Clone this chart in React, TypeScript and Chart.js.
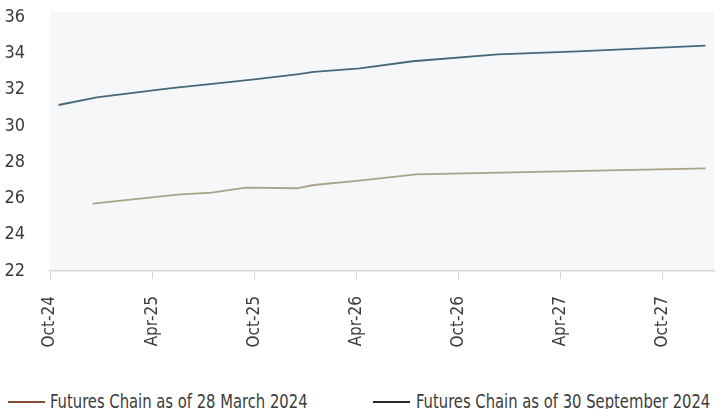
import React, { useEffect, useRef } from "react";
import { Chart, registerables } from "chart.js";

Chart.register(...registerables);

// x axis: months since Oct-24
const tickLabels = ["Oct-24", "Apr-25", "Oct-25", "Apr-26", "Oct-26", "Apr-27", "Oct-27"];
const tickStepMonths = 6;
const axisMaxMonths = 39;
const yMin = 22;
const yMax = 36;
const yStep = 2;

const seriesNames = ["Futures Chain as of 28 March 2024", "Futures Chain as of 30 September 2024"];

const marchChainMonths = [2.5, 7.5, 9.5, 11.5, 14.5, 15.5, 18.3, 21.5, 38.5];
const marchChainValues = [25.71, 26.21, 26.32, 26.6, 26.56, 26.74, 27.0, 27.33, 27.66];

const septChainMonths = [0.5, 2.75, 7, 9.8, 12, 14.5, 15.5, 18.2, 21.3, 26.3, 31, 38.5];
const septChainValues = [31.15, 31.57, 32.07, 32.34, 32.56, 32.84, 32.97, 33.17, 33.56, 33.94, 34.1, 34.42];

const lineColors = ["#a8a389", "#46687a"];
const legendColors = ["#8b4a36", "#222b2b"];

const FONT = "'DejaVu Sans Condensed', 'Roboto', sans-serif";
const TEXT = "#3c3c3c";
const AXIS = "#d3d7d9";

const bgPlugin = {
  id: "plotBg",
  beforeDraw(chart: any) {
    const { ctx, chartArea } = chart;
    if (!chartArea) return;
    ctx.save();
    ctx.fillStyle = "#f5f7f8";
    ctx.fillRect(chartArea.left, chartArea.top - 5, chartArea.right - chartArea.left, chartArea.bottom - chartArea.top + 5);
    ctx.restore();
  },
};

export default function App() {
  const ref = useRef<HTMLCanvasElement | null>(null);

  useEffect(() => {
    if (!ref.current) return;
    const toPoints = (xs: number[], ys: number[]) => xs.map((x, i) => ({ x, y: ys[i] }));
    const chart = new Chart(ref.current, {
      type: "line",
      data: {
        datasets: [
          {
            label: seriesNames[0],
            data: toPoints(marchChainMonths, marchChainValues),
            borderColor: lineColors[0],
            borderWidth: 1.8,
            pointRadius: 0,
            tension: 0,
          },
          {
            label: seriesNames[1],
            data: toPoints(septChainMonths, septChainValues),
            borderColor: lineColors[1],
            borderWidth: 1.8,
            pointRadius: 0,
            tension: 0,
          },
        ],
      },
      options: {
        animation: false,
        responsive: false,
        maintainAspectRatio: false,
        layout: { padding: { top: 17, right: 8, left: 0, bottom: 0 } },
        plugins: { legend: { display: false }, tooltip: { enabled: false } },
        scales: {
          x: {
            type: "linear",
            min: 0,
            max: axisMaxMonths,
            afterBuildTicks: (s: any) => {
              s.ticks = s.ticks.filter((t: any) => t.value % tickStepMonths === 0);
            },
            afterFit: (s: any) => {
              s.height = 109;
            },
            ticks: {
              stepSize: tickStepMonths,
              autoSkip: false,
              maxRotation: 90,
              minRotation: 90,
              padding: 17,
              color: TEXT,
              font: { family: FONT, size: 17 },
              callback: (v: any) => tickLabels[Math.round(Number(v) / tickStepMonths)] ?? "",
            },
            grid: { drawOnChartArea: false, drawTicks: true, tickLength: 8, color: AXIS, lineWidth: 1 },
            border: { display: true, color: AXIS, width: 1.5 },
          },
          y: {
            min: yMin,
            max: yMax,
            afterFit: (s: any) => {
              s.width = 50;
            },
            ticks: {
              stepSize: yStep,
              padding: 0,
              color: TEXT,
              font: { family: FONT, size: 18 },
            },
            grid: {
              display: true,
              drawOnChartArea: false,
              drawTicks: true,
              tickLength: 25,
              tickColor: "rgba(0,0,0,0)",
              color: "rgba(0,0,0,0)",
            },
            border: { display: false },
          },
        },
      },
      plugins: [bgPlugin],
    } as any);
    return () => chart.destroy();
  }, []);

  const legendItems = [
    { lineLeft: 8, textLeft: 50 },
    { lineLeft: 373, textLeft: 416 },
  ];

  return (
    <div style={{ position: "absolute", left: 0, top: 0, width: 722, height: 409, background: "#fff", overflow: "hidden" }}>
      <canvas ref={ref} width={722} height={380} style={{ position: "absolute", left: 0, top: 0, width: 722, height: 380 }} />
      {seriesNames.map((name, i) => (
        <div key={name}>
          <div
            style={{
              position: "absolute",
              left: legendItems[i].lineLeft,
              top: 401,
              width: 37,
              height: 0,
              borderTop: `2px solid ${legendColors[i]}`,
            }}
          />
          <div
            style={{
              position: "absolute",
              left: legendItems[i].textLeft,
              top: 390,
              height: 22,
              lineHeight: "22px",
              fontFamily: FONT,
              fontSize: 19,
              color: TEXT,
              whiteSpace: "nowrap",
              transform: "scaleX(0.865)",
              transformOrigin: "left center",
            }}
          >
            {name}
          </div>
        </div>
      ))}
    </div>
  );
}
